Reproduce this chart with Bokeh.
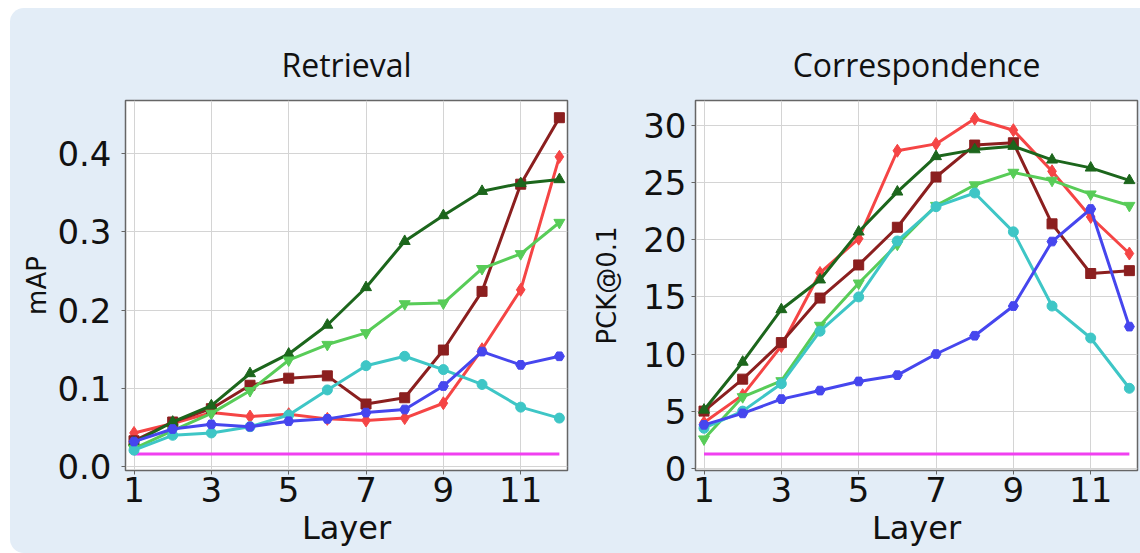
from bokeh.plotting import figure
from bokeh.layouts import row
from bokeh.models import FixedTicker, PrintfTickFormatter
from bokeh.embed import file_html
from bokeh.resources import INLINE

layers = [1, 2, 3, 4, 5, 6, 7, 8, 9, 10, 11, 12]
x_ticks = [1, 3, 5, 7, 9, 11]

# Retrieval (mAP)
ret_red = [0.043, 0.055, 0.069, 0.064, 0.067, 0.061, 0.059, 0.062, 0.081, 0.150, 0.226, 0.396]
ret_maroon = [0.033, 0.057, 0.074, 0.104, 0.113, 0.116, 0.080, 0.088, 0.149, 0.224, 0.361, 0.446]
ret_dkgreen = [0.031, 0.057, 0.078, 0.119, 0.144, 0.181, 0.229, 0.288, 0.321, 0.352, 0.362, 0.367]
ret_ltgreen = [0.023, 0.046, 0.068, 0.097, 0.136, 0.156, 0.171, 0.208, 0.209, 0.253, 0.272, 0.312]
ret_cyan = [0.021, 0.040, 0.043, 0.051, 0.066, 0.098, 0.129, 0.141, 0.124, 0.105, 0.076, 0.062]
ret_blue = [0.032, 0.048, 0.054, 0.051, 0.058, 0.061, 0.069, 0.073, 0.103, 0.147, 0.130, 0.141]
ret_base = [0.016] * 12
ret_ticks = [0.0, 0.1, 0.2, 0.3, 0.4]

# Correspondence (PCK@0.1)
cor_red = [4.0, 6.4, 10.7, 17.1, 20.1, 27.8, 28.4, 30.6, 29.6, 26.0, 22.0, 18.8]
cor_maroon = [5.0, 7.8, 11.0, 14.9, 17.8, 21.1, 25.5, 28.3, 28.5, 21.4, 17.05, 17.3]
cor_dkgreen = [5.1, 9.3, 13.9, 16.5, 20.7, 24.2, 27.3, 27.9, 28.2, 27.0, 26.3, 25.2]
cor_ltgreen = [2.55, 6.25, 7.65, 12.5, 16.2, 19.6, 23.0, 24.8, 25.9, 25.2, 24.0, 23.0]
cor_cyan = [3.5, 5.0, 7.4, 12.0, 15.0, 19.9, 22.9, 24.1, 20.7, 14.2, 11.4, 7.0]
cor_blue = [3.8, 4.8, 6.05, 6.8, 7.6, 8.15, 10.0, 11.6, 14.2, 19.85, 22.7, 12.4]
cor_base = [1.24] * 12
cor_ticks = [0, 5, 10, 15, 20, 25, 30]

PANEL = "#e3edf7"
styles = [
    ("#f54545", "diamond", 13),
    ("#8b1f1f", "square", 10),
    ("#1c661c", "triangle", 11),
    ("#58cc58", "inverted_triangle", 11),
    ("#3ec6c6", "circle", 10),
    ("#4646ee", "hex", 10),
]


def make_fig(title, ylabel, yr, yticks, yfmt, series, base, width, bl, br, ylabel_standoff, ytick_standoff):
    p = figure(width=width, height=545, x_range=(0.78, 12.21), y_range=yr,
               output_backend="svg", toolbar_location=None,
               min_border_left=bl, min_border_right=br, min_border_top=92, min_border_bottom=83)
    p.background_fill_color = "white"
    p.border_fill_alpha = 0
    p.outline_line_color = "#666666"
    p.outline_line_width = 1.5
    p.title.text = title
    p.title.align = "center"
    p.title.text_font = "Open Sans"
    p.title.text_font_size = "32px"
    p.title.text_font_style = "normal"
    p.title.text_color = "#111111"
    p.title.standoff = 30
    p.xaxis.ticker = FixedTicker(ticks=x_ticks)
    p.yaxis.ticker = FixedTicker(ticks=yticks)
    p.yaxis.formatter = PrintfTickFormatter(format=yfmt)
    p.xgrid.ticker = FixedTicker(ticks=x_ticks)
    p.ygrid.ticker = FixedTicker(ticks=yticks)
    p.grid.grid_line_color = "#d4d4d4"
    p.grid.grid_line_width = 1
    for ax in (p.xaxis, p.yaxis):
        ax.major_label_text_font = "DejaVu Sans"
        ax.major_label_text_font_size = "34px"
        ax.major_label_text_color = "#111111"
        ax.axis_label_text_font = "DejaVu Sans"
        ax.axis_label_text_font_style = "normal"
        ax.axis_label_text_color = "#111111"
        ax.axis_line_color = "#666666"
        ax.major_tick_line_color = "#666666"
        ax.major_tick_out = 4
        ax.major_tick_in = 0
        ax.minor_tick_line_color = None
    p.xaxis.axis_label = "Layer"
    p.xaxis.axis_label_text_font_size = "32px"
    p.xaxis.major_label_standoff = 2
    p.xaxis.axis_label_standoff = 4
    p.yaxis.axis_label = ylabel
    p.yaxis.axis_label_text_font_size = "26px"
    p.yaxis.major_label_standoff = ytick_standoff
    p.yaxis.axis_label_standoff = ylabel_standoff
    p.line(layers, base, line_color="#f040f0", line_width=3)
    for ys, (col, mk, sz) in zip(series, styles):
        p.line(layers, ys, line_color=col, line_width=3)
        p.scatter(layers, ys, marker=mk, size=sz, fill_color=col, line_color=col)
    return p


p1 = make_fig("Retrieval", "mAP", (-0.005, 0.468), ret_ticks, "%.1f",
              [ret_red, ret_maroon, ret_dkgreen, ret_ltgreen, ret_cyan, ret_blue], ret_base,
              570, 115, 13, 2, 10)
p2 = make_fig("Correspondence", "PCK@0.1", (-0.2, 32.2), cor_ticks, "%d",
              [cor_red, cor_maroon, cor_dkgreen, cor_ltgreen, cor_cyan, cor_blue], cor_base,
              560, 115, 3, 18, 5)

layout = row(p1, p2, margin=(8, 0, 0, 10),
             styles={"background-color": PANEL, "border-radius": "14px 0 0 14px"})

open("out.html", "w").write(file_html(layout, INLINE))
